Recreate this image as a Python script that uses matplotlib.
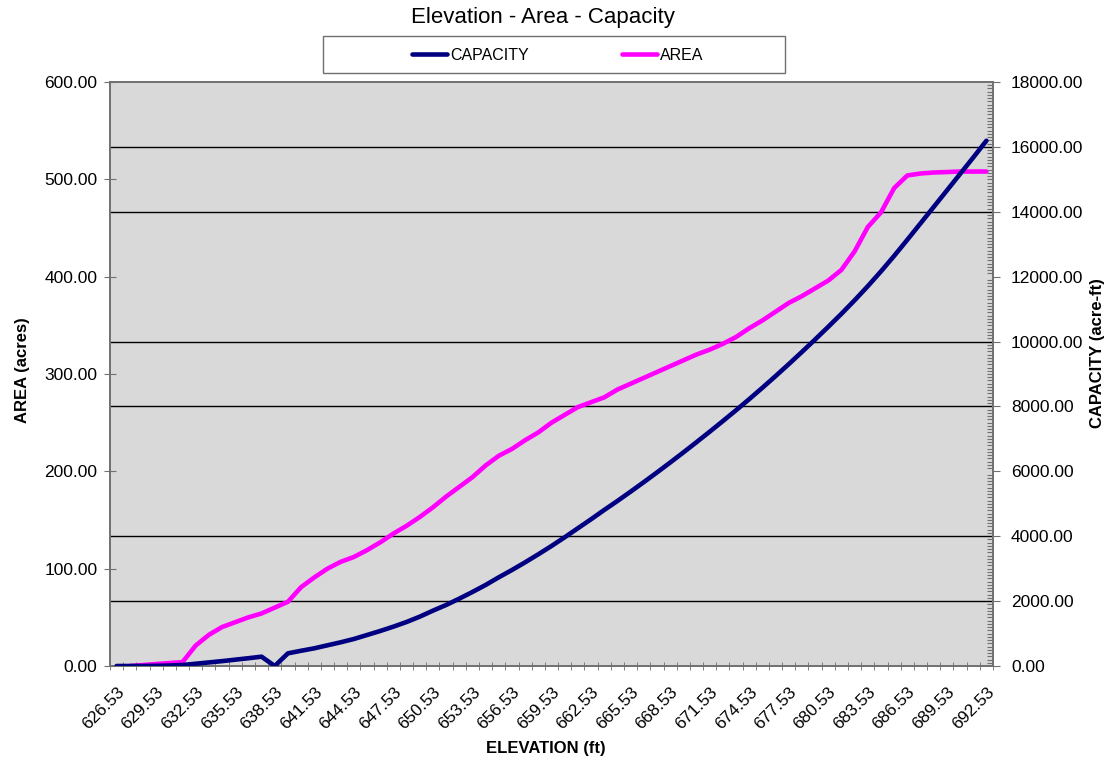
import matplotlib.pyplot as plt
import numpy as np
from matplotlib.patches import Rectangle
from matplotlib.ticker import FuncFormatter

plt.rcParams['font.family'] = ['Liberation Sans', 'DejaVu Sans']

# elevations, 626.53 .. 692.53 ft
elevation = [626.53 + i for i in range(67)]

# area (acres), first elevation has no value
area = [np.nan, 0, 1, 2, 3, 4, 21, 32, 40, 45,
        50, 54, 60, 66, 81, 91, 100, 107, 112, 119,
        127, 136, 144, 153, 163, 174, 184, 194, 206, 216,
        223, 232, 240, 250, 258, 266, 271, 276, 284, 290,
        296, 302, 308, 314, 320, 325, 331, 338, 347, 355,
        364, 373, 380, 388, 396, 407, 426, 451, 466, 491,
        504, 506, 507, 507.5, 508, 508, 508]

# capacity (acre-ft)
capacity = [0, 0, 0, 5, 15, 30, 70, 110, 150, 195,
            240, 287, 0, 390, 470, 545, 638, 730, 832, 955,
            1079, 1212, 1356, 1520, 1705, 1880, 2075, 2281, 2497, 2734,
            2959, 3196, 3443, 3699, 3967, 4245, 4522, 4809, 5086, 5373,
            5666, 5965, 6270, 6581, 6898, 7220, 7548, 7882, 8224, 8575,
            8935, 9303, 9679, 10063, 10455, 10856, 11272, 11707, 12163, 12641,
            13138, 13643, 14149, 14656, 15164, 15672, 16190]

x = np.arange(len(elevation))
xlabels = ['%.2f' % e for e in elevation]

fig = plt.figure(figsize=(11.11, 7.64), dpi=100)
ax = fig.add_axes([110 / 1111, 1 - 666 / 764, 883 / 1111, 584 / 764])
ax2 = ax.twinx()

ax.set_facecolor('#d9d9d9')
ax.plot(x, area, color='#ff00ff', lw=3.3, solid_capstyle='round', zorder=3)
ax2.plot(x, capacity, color='#000080', lw=3.3, solid_capstyle='round', zorder=3)

ax.set_xlim(-0.5, len(x) - 0.5)
ax.set_ylim(0, 600)
ax2.set_ylim(0, 18000)

fmt = FuncFormatter(lambda v, p: '%.2f' % v)
ax.set_yticks(np.arange(0, 601, 100))
ax.yaxis.set_major_formatter(fmt)
ax2.set_yticks(np.arange(0, 18001, 2000))
ax2.yaxis.set_major_formatter(fmt)
ax2.set_yticks(np.arange(0, 18001, 100), minor=True)

# gridlines follow the capacity axis, drawn under the lines
ax.set_yticks(np.arange(0, 601, 200 / 3), minor=True)
ax.grid(which='minor', axis='y', color='black', lw=1.0, zorder=1)
ax.set_axisbelow(True)

ax.set_xticks(x[::3])
ax.set_xticklabels(xlabels[::3], rotation=45, ha='right', rotation_mode='anchor')
ax.set_xticks(np.arange(-0.5, len(x), 1), minor=True)

ax.tick_params(axis='x', which='major', length=0, pad=13, labelsize=12.3)
ax.tick_params(axis='x', which='minor', direction='inout', length=6, color='#707070')
ax.tick_params(axis='y', which='major', direction='inout', length=8, color='#707070',
               labelsize=12.5, pad=5)
ax.tick_params(axis='y', which='minor', length=0)
ax2.tick_params(axis='y', which='major', direction='out', length=5, color='#707070',
                labelsize=12.5, pad=8)
ax2.tick_params(axis='y', which='minor', direction='in', length=4, color='#707070', width=0.8)

for a in (ax, ax2):
    for s in a.spines.values():
        s.set_color('#707070')
        s.set_linewidth(1.2)

ax.set_ylabel('AREA (acres)', fontsize=12, fontweight='bold')
ax2.set_ylabel('CAPACITY (acre-ft)', fontsize=12, fontweight='bold')
ax.set_xlabel('ELEVATION (ft)', fontsize=12, fontweight='bold')
ax.yaxis.set_label_coords(-(110 - 30) / 883, (666 - 370) / 584)
ax2.yaxis.set_label_coords(1 + 97 / 883, (666 - 353) / 584)
ax.xaxis.set_label_coords((546 - 110) / 883, -(741 - 666) / 584)

fig.text(543 / 1111, 1 - 18 / 764, 'Elevation - Area - Capacity',
         ha='center', va='center', fontsize=16)

fig.patches.append(Rectangle((323 / 1111, 1 - 73 / 764), 462 / 1111, 37 / 764,
                             transform=fig.transFigure, facecolor='white',
                             edgecolor='#707070', lw=1.0))
handles = [ax2.lines[0], ax.lines[0]]
fig.legend(handles, ['CAPACITY', 'AREA'], loc='center',
           bbox_to_anchor=(558 / 1111, 1 - 55 / 764), ncol=2, frameon=False,
           fontsize=11.5, handlelength=2.2, handletextpad=0.2, columnspacing=5.8)

fig.savefig('out.png', dpi=100)
